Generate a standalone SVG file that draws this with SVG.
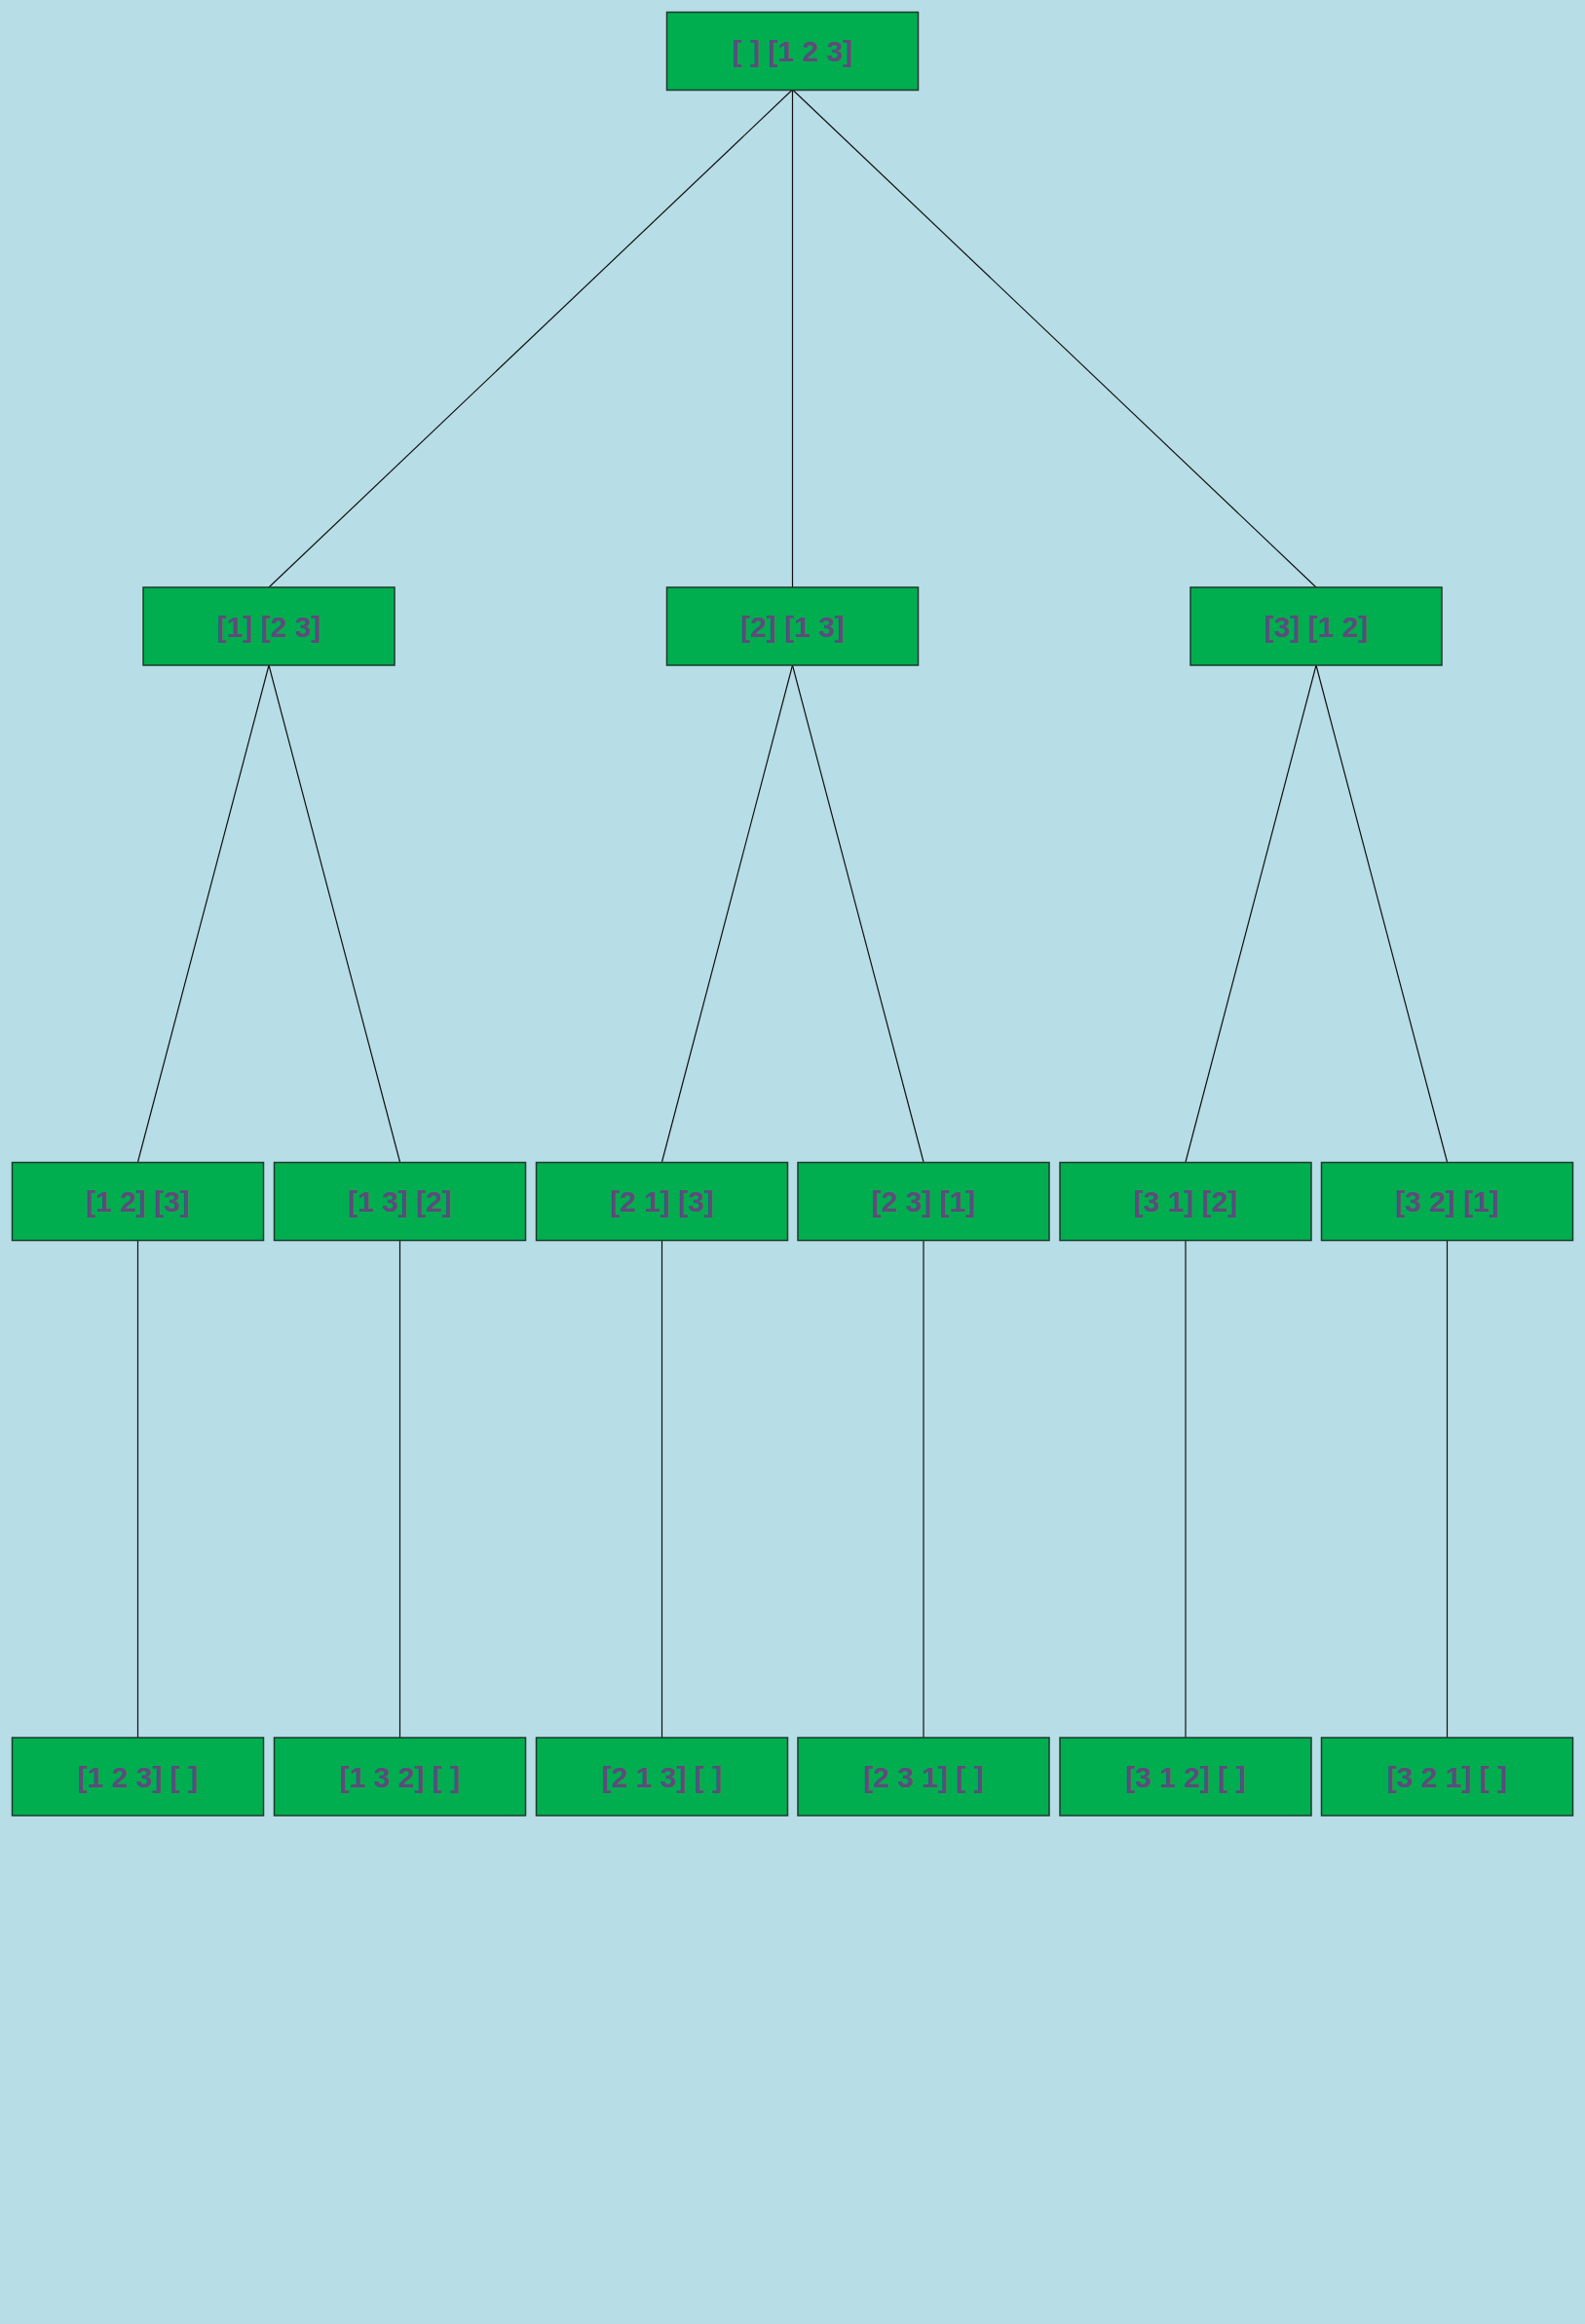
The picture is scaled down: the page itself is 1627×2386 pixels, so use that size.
<svg xmlns="http://www.w3.org/2000/svg" width="1627" height="2386" viewBox="0 0 1627 2386">
<style>
.n rect{fill:#00ae50;stroke:#1d3b2c;stroke-width:1.5}
.n text{font-family:"Liberation Sans",Arial,sans-serif;font-weight:bold;font-size:30px;fill:#5f4b7c;text-anchor:middle}
#edges line{stroke:#111;stroke-width:1.2}
</style>
<rect width="1627" height="2386" fill="#b7dde7"/>
<g id="edges">
<line x1="813.5" y1="92" x2="276" y2="603"/>
<line x1="813.5" y1="92" x2="813.5" y2="603"/>
<line x1="813.5" y1="92" x2="1351" y2="603"/>
<line x1="276" y1="683" x2="141.5" y2="1193"/>
<line x1="276" y1="683" x2="410.5" y2="1193"/>
<line x1="813.5" y1="683" x2="679.5" y2="1193"/>
<line x1="813.5" y1="683" x2="948" y2="1193"/>
<line x1="1351" y1="683" x2="1217" y2="1193"/>
<line x1="1351" y1="683" x2="1485.5" y2="1193"/>
<line x1="141.5" y1="1273" x2="141.5" y2="1784"/>
<line x1="410.5" y1="1273" x2="410.5" y2="1784"/>
<line x1="679.5" y1="1273" x2="679.5" y2="1784"/>
<line x1="948" y1="1273" x2="948" y2="1784"/>
<line x1="1217" y1="1273" x2="1217" y2="1784"/>
<line x1="1485.5" y1="1273" x2="1485.5" y2="1784"/>
</g>
<g id="n0" class="n"><rect x="684.5" y="12.5" width="258" height="80"/><text x="813.5" y="63">[ ] [1 2 3]</text></g>
<g id="n1" class="n"><rect x="147" y="603" width="258" height="80"/><text x="276" y="653.5">[1] [2 3]</text></g>
<g id="n2" class="n"><rect x="684.5" y="603" width="258" height="80"/><text x="813.5" y="653.5">[2] [1 3]</text></g>
<g id="n3" class="n"><rect x="1222" y="603" width="258" height="80"/><text x="1351" y="653.5">[3] [1 2]</text></g>
<g id="n4" class="n"><rect x="12.5" y="1193.5" width="258" height="80"/><text x="141.5" y="1244">[1 2] [3]</text></g>
<g id="n5" class="n"><rect x="281.5" y="1193.5" width="258" height="80"/><text x="410.5" y="1244">[1 3] [2]</text></g>
<g id="n6" class="n"><rect x="550.5" y="1193.5" width="258" height="80"/><text x="679.5" y="1244">[2 1] [3]</text></g>
<g id="n7" class="n"><rect x="819" y="1193.5" width="258" height="80"/><text x="948" y="1244">[2 3] [1]</text></g>
<g id="n8" class="n"><rect x="1088" y="1193.5" width="258" height="80"/><text x="1217" y="1244">[3 1] [2]</text></g>
<g id="n9" class="n"><rect x="1356.5" y="1193.5" width="258" height="80"/><text x="1485.5" y="1244">[3 2] [1]</text></g>
<g id="n10" class="n"><rect x="12.5" y="1784" width="258" height="80"/><text x="141.5" y="1834.5">[1 2 3] [ ]</text></g>
<g id="n11" class="n"><rect x="281.5" y="1784" width="258" height="80"/><text x="410.5" y="1834.5">[1 3 2] [ ]</text></g>
<g id="n12" class="n"><rect x="550.5" y="1784" width="258" height="80"/><text x="679.5" y="1834.5">[2 1 3] [ ]</text></g>
<g id="n13" class="n"><rect x="819" y="1784" width="258" height="80"/><text x="948" y="1834.5">[2 3 1] [ ]</text></g>
<g id="n14" class="n"><rect x="1088" y="1784" width="258" height="80"/><text x="1217" y="1834.5">[3 1 2] [ ]</text></g>
<g id="n15" class="n"><rect x="1356.5" y="1784" width="258" height="80"/><text x="1485.5" y="1834.5">[3 2 1] [ ]</text></g>
</svg>
